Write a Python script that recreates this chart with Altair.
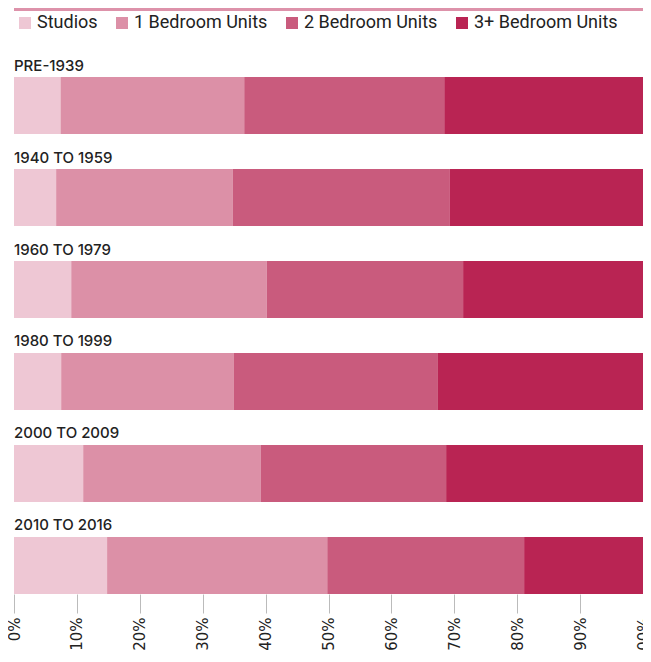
import altair as alt
import pandas as pd

periods = ["PRE-1939", "1940 TO 1959", "1960 TO 1979", "1980 TO 1999", "2000 TO 2009", "2010 TO 2016"]
unit_types = ["Studios", "1 Bedroom Units", "2 Bedroom Units", "3+ Bedroom Units"]
studios = [7.4, 6.7, 9.1, 7.5, 11.0, 14.8]
one_bed = [29.2, 28.1, 31.1, 27.4, 28.2, 35.0]
two_bed = [31.8, 34.5, 31.2, 32.5, 29.5, 31.3]
three_bed = [31.6, 30.7, 28.6, 32.6, 31.3, 18.9]
colors = ["#EEC7D4", "#DC90A7", "#C95B7D", "#B92453"]

rows = []
for i, p in enumerate(periods):
    for j, (t, vals) in enumerate(zip(unit_types, [studios, one_bed, two_bed, three_bed])):
        rows.append({"period": p, "type": t, "order": j, "value": vals[i]})
df = pd.DataFrame(rows)
labels_df = pd.DataFrame({"period": periods})

W, H = 629, 537
TOP = 49
yscale = alt.Scale(domain=periods, paddingInner=0.3804, paddingOuter=0.1087, align=1)

bars = alt.Chart(df).mark_bar(size=57).encode(
    y=alt.Y("period:N", scale=yscale, axis=None, sort=periods),
    x=alt.X("value:Q", stack="normalize",
            scale=alt.Scale(domain=[0, 1], nice=False),
            axis=alt.Axis(format=".0%", values=[i / 10 for i in range(11)],
                          domain=False, grid=False, tickSize=19, tickColor="#BBBBBB",
                          labelAngle=-90, labelFontSize=15, labelFont="DejaVu Sans",
                          labelColor="#222222", labelPadding=4, title=None)),
    color=alt.Color("type:N", scale=alt.Scale(domain=unit_types, range=colors), sort=unit_types,
                    legend=alt.Legend(orient="none", direction="horizontal", title=None,
                                      legendX=2, legendY=-43, symbolType="square",
                                      symbolSize=144, symbolStrokeWidth=0,
                                      labelFont="Roboto", labelFontSize=18, labelColor="#222222",
                                      columnPadding=15, labelOffset=3, labelLimit=300)),
    order=alt.Order("order:Q"),
)

labels = alt.Chart(labels_df).mark_text(align="left", baseline="alphabetic", dy=-35,
                                        font="Inter", fontSize=15, fontWeight=500,
                                        color="#222222").encode(
    y=alt.Y("period:N", scale=yscale, axis=None, sort=periods),
    x=alt.value(0),
    text="period:N",
)

top_rule = alt.Chart(labels_df).mark_rule(color="#DD92AA", strokeWidth=3).encode(
    x=alt.value(0), x2=alt.value(W + 3), y=alt.value(-TOP + 1.5)
)

chart = alt.layer(top_rule, bars, labels).properties(
    width=W, height=H,
    autosize=alt.AutoSizeParams(type="none"),
    padding={"top": TOP, "left": 6, "right": 0, "bottom": 56},
).configure_view(stroke=None)

chart.save("out.html", embed_options={"renderer": "svg", "actions": False})
